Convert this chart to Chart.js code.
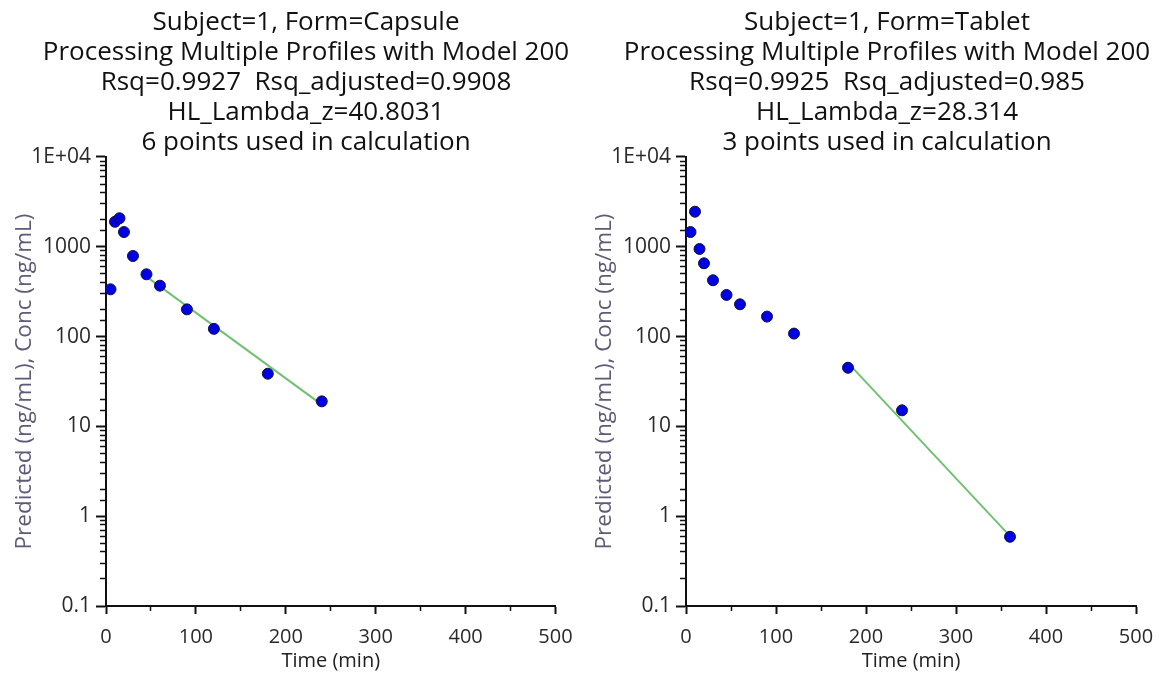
<!DOCTYPE html>
<html>
<head>
<meta charset="utf-8">
<script src="https://cdn.jsdelivr.net/npm/chart.js@4"></script>
<style>
  body { margin: 0; background: #fff; width: 1159px; height: 677px; overflow: hidden; position: relative; }
  .panel { position: absolute; top: 0; height: 677px; }
</style>
</head>
<body>
<div class="panel" style="left:0px"><canvas id="capsuleChart" width="612" height="677"></canvas></div>
<div class="panel" style="left:580px"><canvas id="tabletChart" width="614" height="677"></canvas></div>
<script>
// Capsule profile (observed)
const capsuleTime = [5, 10, 15, 20, 30, 45, 60, 90, 120, 180, 240];
const capsuleConc = [336, 1900, 2080, 1460, 790, 494, 369, 201, 122, 38.6, 19];
// Capsule terminal fit (predicted)
const capsuleFitTime = [45, 240];
const capsuleFitPred = [465, 17.5];

// Tablet profile (observed)
const tabletTime = [5, 10, 15, 20, 30, 45, 60, 90, 120, 180, 240, 360];
const tabletConc = [1460, 2460, 946, 655, 424, 291, 229, 167, 108, 45, 15.1, 0.59];
// Tablet terminal fit (predicted)
const tabletFitTime = [180, 360];
const tabletFitPred = [51, 0.6];

const capsuleTitle = [
  "Subject=1, Form=Capsule",
  "Processing Multiple Profiles with Model 200",
  "Rsq=0.9927  Rsq_adjusted=0.9908",
  "HL_Lambda_z=40.8031",
  "6 points used in calculation",
];
const tabletTitle = [
  "Subject=1, Form=Tablet",
  "Processing Multiple Profiles with Model 200",
  "Rsq=0.9925  Rsq_adjusted=0.985",
  "HL_Lambda_z=28.314",
  "3 points used in calculation",
];

const yMin = 0.1;
const yMax = 10000;
const xMin = 0;
const xMax = 500;
const xStep = 50;

Chart.defaults.font.family = "'Open Sans', sans-serif";
Chart.defaults.color = "#222";

function toPoints(xs, ys) {
  return xs.map((x, i) => ({ x, y: ys[i] }));
}

function isDecade(value) {
  const l = Math.log10(value);
  return Math.abs(l - Math.round(l)) < 1e-6;
}

function renderProfileChart(canvasId, titleLines, time, conc, fitTime, fitPred, axisWidth, rightSpace) {
  const ctx = document.getElementById(canvasId);
  return new Chart(ctx, {
    type: "scatter",
    data: {
      datasets: [
        {
          label: "Conc",
          data: toPoints(time, conc),
          backgroundColor: "rgb(0, 0, 228)",
          borderColor: "#14143a",
          borderWidth: 1,
          pointRadius: 5.5,
        },
        {
          label: "Predicted",
          data: toPoints(fitTime, fitPred),
          showLine: true,
          borderColor: "#72c072",
          borderWidth: 2,
          pointRadius: 0,
        },
      ],
    },
    options: {
      responsive: false,
      animation: false,
      layout: { padding: 0 },
      scales: {
        x: {
          type: "linear",
          min: xMin,
          max: xMax,
          afterFit: (scale) => { scale.height = 71; },
          border: { display: true, color: "#111", width: 2 },
          grid: {
            drawOnChartArea: false,
            drawTicks: true,
            tickLength: 8,
            tickColor: "#111",
            tickWidth: (c) => (c.tick && c.tick.value % 100 === 0 ? 2 : 1.5),
            tickBorderDash: (c) => (c.tick && c.tick.value % 100 === 0 ? [] : [4, 20]),
          },
          ticks: {
            stepSize: xStep,
            autoSkip: false,
            maxRotation: 0,
            padding: 11,
            color: "#2a2a2a",
            font: { size: 20 },
            callback: (value) => (value % 100 === 0 ? String(value) : ""),
          },
          title: {
            display: true,
            text: "Time (min)",
            color: "#222",
            font: { size: 20 },
            padding: { top: 0, bottom: 4 },
          },
        },
        y: {
          type: "logarithmic",
          min: yMin,
          max: yMax,
          afterFit: (scale) => { scale.width = axisWidth; },
          border: { display: true, color: "#111", width: 2 },
          grid: {
            drawOnChartArea: false,
            drawTicks: true,
            tickLength: 10,
            tickColor: "#111",
            tickWidth: (c) => (c.tick && isDecade(c.tick.value) ? 2 : 1.5),
            tickBorderDash: (c) => (c.tick && isDecade(c.tick.value) ? [] : [5, 4]),
            tickBorderDashOffset: (c) => (c.tick && isDecade(c.tick.value) ? 0 : 5),
          },
          ticks: {
            autoSkip: false,
            padding: 5,
            color: "#2a2a2a",
            font: { size: 21 },
            callback: (value) => {
              if (!isDecade(value)) return "";
              if (value >= 10000) return "1E+04";
              return String(Number(value.toPrecision(1)));
            },
          },
          title: {
            display: true,
            text: "Predicted (ng/mL), Conc (ng/mL)",
            color: "#5f5a78",
            font: { size: 22.5, lineHeight: 1.2 },
            padding: { top: 11, bottom: 0 },
          },
        },
        // empty right-hand axis that only reserves the blank margin
        spacer: {
          type: "linear",
          position: "right",
          afterFit: (scale) => { scale.width = rightSpace; },
          border: { display: false },
          grid: { display: false, drawTicks: false },
          ticks: { display: false },
        },
      },
      plugins: {
        legend: { display: false },
        tooltip: { enabled: false },
        title: {
          display: true,
          text: titleLines,
          color: "#111",
          font: { size: 26, weight: "normal", lineHeight: 30 / 26 },
          padding: { top: 8, bottom: -1 },
        },
      },
    },
  });
}

renderProfileChart("capsuleChart", capsuleTitle, capsuleTime, capsuleConc, capsuleFitTime, capsuleFitPred, 106, 56.5);
renderProfileChart("tabletChart", tabletTitle, tabletTime, tabletConc, tabletFitTime, tabletFitPred, 106, 58);
</script>
</body>
</html>
